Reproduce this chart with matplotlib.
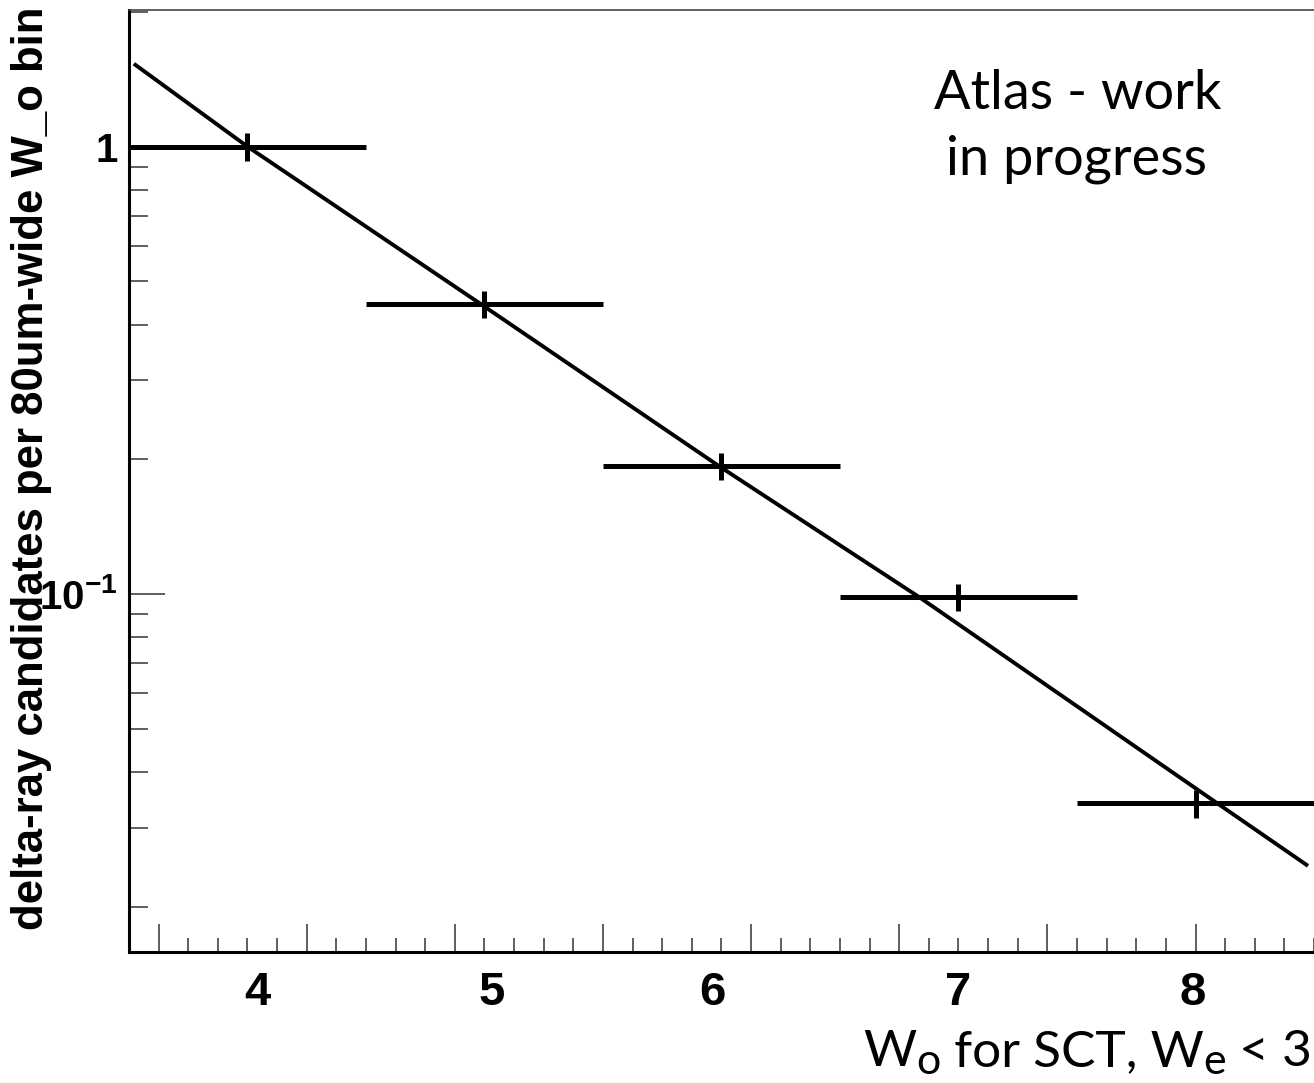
import numpy as np
import matplotlib
matplotlib.use("Agg")
import matplotlib.pyplot as plt
from matplotlib.ticker import FixedLocator, NullFormatter, LogLocator

plt.rcParams['mathtext.fontset'] = 'custom'
plt.rcParams['mathtext.rm'] = 'Liberation Sans:bold'
plt.rcParams['mathtext.bf'] = 'Liberation Sans:bold'

# measured bins (W_o in strips), bin half width 0.5
w_o = [4, 5, 6, 7, 8]
w_halfwidth = [0.5, 0.5, 0.5, 0.5, 0.5]
counts = [1.0, 0.444, 0.193, 0.0983, 0.0340]
count_err = [0.07, 0.031, 0.0135, 0.0068, 0.0024]

# fitted curve
fit_x = [3.527, 4.0, 4.986, 5.99, 6.835, 8.093, 8.468]
fit_y = [1.523, 1.0, 0.444, 0.193, 0.0983, 0.034, 0.0248]

# x tick labels (drawn slightly off the tick marks in the original)
xlabel_pos = [4.04, 5.03, 5.96, 7.0, 7.99]
xlabel_txt = ['4', '5', '6', '7', '8']

W, H = 1314, 1083
fig = plt.figure(figsize=(W / 100, H / 100), dpi=100)
ax = fig.add_axes([129 / W, 1 - 952 / H, 1 - 129 / W, (952 - 10) / H])

ax.errorbar(w_o, counts, xerr=w_halfwidth, yerr=count_err, fmt='none',
            ecolor='black', elinewidth=3.6, capsize=0, zorder=2)
ax.plot(fit_x, fit_y, color='black', lw=2.8, zorder=3)

ax.set_yscale('log')
ax.set_xlim(3.5, 8.5)
ax.set_ylim(0.01583, 2.02)

# ROOT style axis ticks
ax.xaxis.set_major_locator(FixedLocator(np.arange(3.625, 8.51, 0.625)))
ax.xaxis.set_minor_locator(FixedLocator(np.arange(3.625, 8.51, 0.125)))
ax.xaxis.set_major_formatter(NullFormatter())
ax.set_yticks([0.1, 1], labels=[r'$\mathbf{10^{-1}}$', '1'])
ax.yaxis.set_minor_locator(LogLocator(base=10, subs=np.arange(2, 10)))
ax.yaxis.set_minor_formatter(NullFormatter())
for t in ax.get_yticklabels():
    t.set_fontfamily('Liberation Sans')
    t.set_fontweight('bold')

ax.tick_params(axis='x', which='major', direction='in', length=20, width=1.1, color='#333333')
ax.tick_params(axis='x', which='minor', direction='in', length=10, width=1.1, color='#333333')
ax.tick_params(axis='y', which='major', direction='in', length=26, width=1.1,
               color='#333333', labelsize=29, pad=8)
ax.tick_params(axis='y', which='minor', direction='in', length=14, width=1.1, color='#333333')

sec = ax.secondary_xaxis('bottom')
sec.set_xticks(xlabel_pos, labels=xlabel_txt)
sec.tick_params(length=0, pad=14, labelsize=34)
for t in sec.get_xticklabels():
    t.set_fontfamily('Liberation Sans')
    t.set_fontweight('bold')
sec.spines['bottom'].set_visible(False)

ax.spines['right'].set_visible(False)
ax.spines['left'].set_linewidth(2.2)
ax.spines['bottom'].set_linewidth(2.2)
ax.spines['top'].set_linewidth(1.2)
ax.spines['top'].set_color('#444444')

fig.text(32 / W, 1 - 6 / H, 'delta-ray candidates per 80um-wide W_o bin',
         rotation=90, ha='center', va='top', fontsize=31.5,
         fontfamily='Liberation Sans', fontweight='bold')

fig.text(1078 / W, 1 - 109 / H, 'Atlas - work', ha='center', va='baseline',
         fontsize=39, fontfamily='Lato')
fig.text(1077 / W, 1 - 175 / H, 'in progress', ha='center', va='baseline',
         fontsize=39, fontfamily='Lato')

# axis title with subscripts, chained right to left from the figure edge
big, small, drop = 37, 31, -4
t5 = fig.text(1312 / W, 1 - 1066 / H, ' < 3', ha='right', va='baseline',
              fontsize=big, fontfamily='Lato')
t4 = ax.annotate('e', xy=(0, 0), xycoords=t5, xytext=(0, drop), textcoords='offset points',
                 ha='right', va='bottom', fontsize=small, fontfamily='Lato',
                 annotation_clip=False)
t3 = ax.annotate(' for SCT, W', xy=(0, 0), xycoords=(t4, t5), ha='right', va='bottom',
                 fontsize=big, fontfamily='Lato', annotation_clip=False)
t2 = ax.annotate('o', xy=(0, 0), xycoords=(t3, t5), xytext=(0, drop), textcoords='offset points',
                 ha='right', va='bottom', fontsize=small, fontfamily='Lato',
                 annotation_clip=False)
t1 = ax.annotate('W', xy=(0, 0), xycoords=(t2, t5), ha='right', va='bottom',
                 fontsize=big, fontfamily='Lato', annotation_clip=False)

fig.savefig('out.png', dpi=100)
